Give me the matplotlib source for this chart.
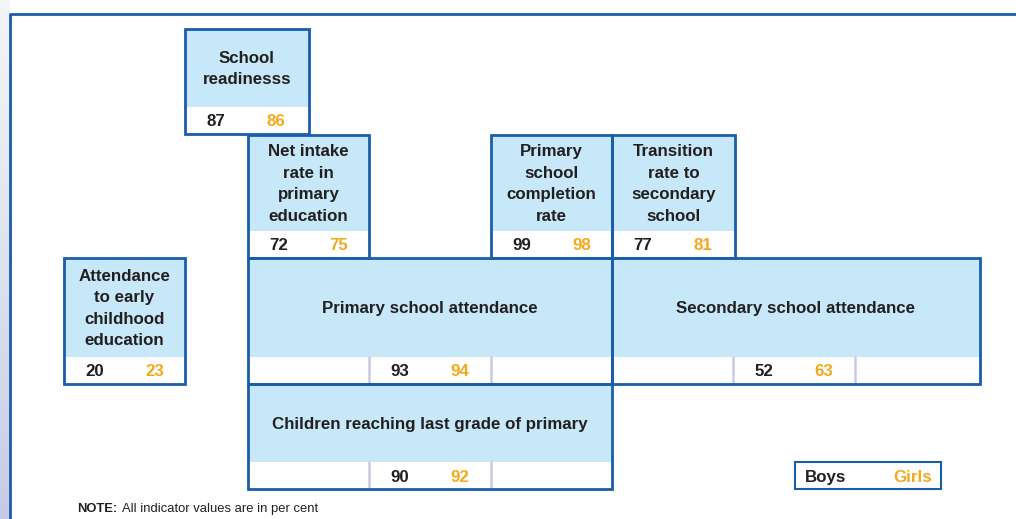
import numpy as np
import matplotlib.pyplot as plt
from matplotlib.patches import Rectangle
from matplotlib.colors import LinearSegmentedColormap

plt.rcParams['font.family'] = ['Liberation Sans', 'DejaVu Sans']

# Indicator data (per cent)
labels = ["School\nreadinesss",
          "Net intake\nrate in\nprimary\neducation",
          "Primary\nschool\ncompletion\nrate",
          "Transition\nrate to\nsecondary\nschool",
          "Attendance\nto early\nchildhood\neducation",
          "Primary school attendance",
          "Secondary school attendance",
          "Children reaching last grade of primary"]
boys = [87, 72, 99, 77, 20, 93, 52, 90]
girls = [86, 75, 98, 81, 23, 94, 63, 92]

# layout of each box in pixels: left, top, right, bottom
boxes = [(185, 29, 309, 134),
         (248, 135, 369, 258),
         (491, 135, 612, 258),
         (612, 135, 735, 258),
         (64, 258, 185, 384),
         (248, 258, 612, 384),
         (612, 258, 980, 384),
         (248, 384, 612, 489)]
strip_h = 27

blue_fill = '#c7e8f8'
edge = '#1a5dab'
dark = '#231f20'
orange = '#f6a81d'
divider = '#c9cbe4'
fs = 12.2

fig = plt.figure(figsize=(10.16, 5.19), dpi=100)
ax = fig.add_axes([0, 0, 1, 1])
ax.set_xlim(0, 1016)
ax.set_ylim(519, 0)
ax.axis('off')

# left edge gradient
grad = np.linspace(0, 1, 100).reshape(-1, 1)
cm = LinearSegmentedColormap.from_list('g', ['#f4f5f8', '#dde3ee', '#c7cbe6'])
ax.imshow(grad, extent=(0, 10, 519, 0), cmap=cm, aspect='auto', zorder=0)

# outer frame
ax.plot([10, 10, 1016], [519, 14, 14], color=edge, lw=2, zorder=1)

for lab, b, g, (x0, y0, x1, y1) in zip(labels, boys, girls, boxes):
    ys = y1 - strip_h
    ax.add_patch(Rectangle((x0, y0), x1 - x0, ys - y0, facecolor=blue_fill, edgecolor='none', zorder=2))
    ax.add_patch(Rectangle((x0, ys), x1 - x0, strip_h, facecolor='white', edgecolor='none', zorder=2))
    if x1 - x0 > 200:
        # three cells, values in the middle one
        cell = 121
        cx = x0 + cell
        for dx in (x0 + cell, x0 + 2 * cell + 1):
            ax.plot([dx, dx], [ys, y1], color=divider, lw=1.8, zorder=3)
    else:
        cx = x0
    base = ys + strip_h / 2 + 6
    ax.text(cx + 31, base, str(b), ha='center', va='baseline',
            fontsize=fs, fontweight='bold', color=dark, zorder=5)
    ax.text(cx + 91, base, str(g), ha='center', va='baseline',
            fontsize=fs, fontweight='bold', color=orange, zorder=5)
    ax.text((x0 + x1) / 2, (y0 + ys) / 2 + 1, lab, ha='center', va='center',
            fontsize=fs, fontweight='bold', color=dark, linespacing=1.55, zorder=5)
    ax.add_patch(Rectangle((x0, y0), x1 - x0, y1 - y0, facecolor='none', edgecolor=edge,
                           lw=2.0, zorder=4))

# legend box
ax.add_patch(Rectangle((795, 462), 146, 27, facecolor='white', edgecolor=edge, lw=1.5, zorder=4))
ax.text(826, 482, "Boys", ha='center', va='baseline', fontsize=fs, fontweight='bold', color=dark, zorder=5)
ax.text(913, 482, "Girls", ha='center', va='baseline', fontsize=fs, fontweight='bold', color=orange, zorder=5)

# note
ax.text(77, 512, "NOTE:", ha='left', va='baseline', fontsize=9.4, fontweight='bold', color=dark)
ax.text(122, 512, "All indicator values are in per cent", ha='left', va='baseline', fontsize=9.4, color=dark)

fig.savefig('out.png', dpi=100)
